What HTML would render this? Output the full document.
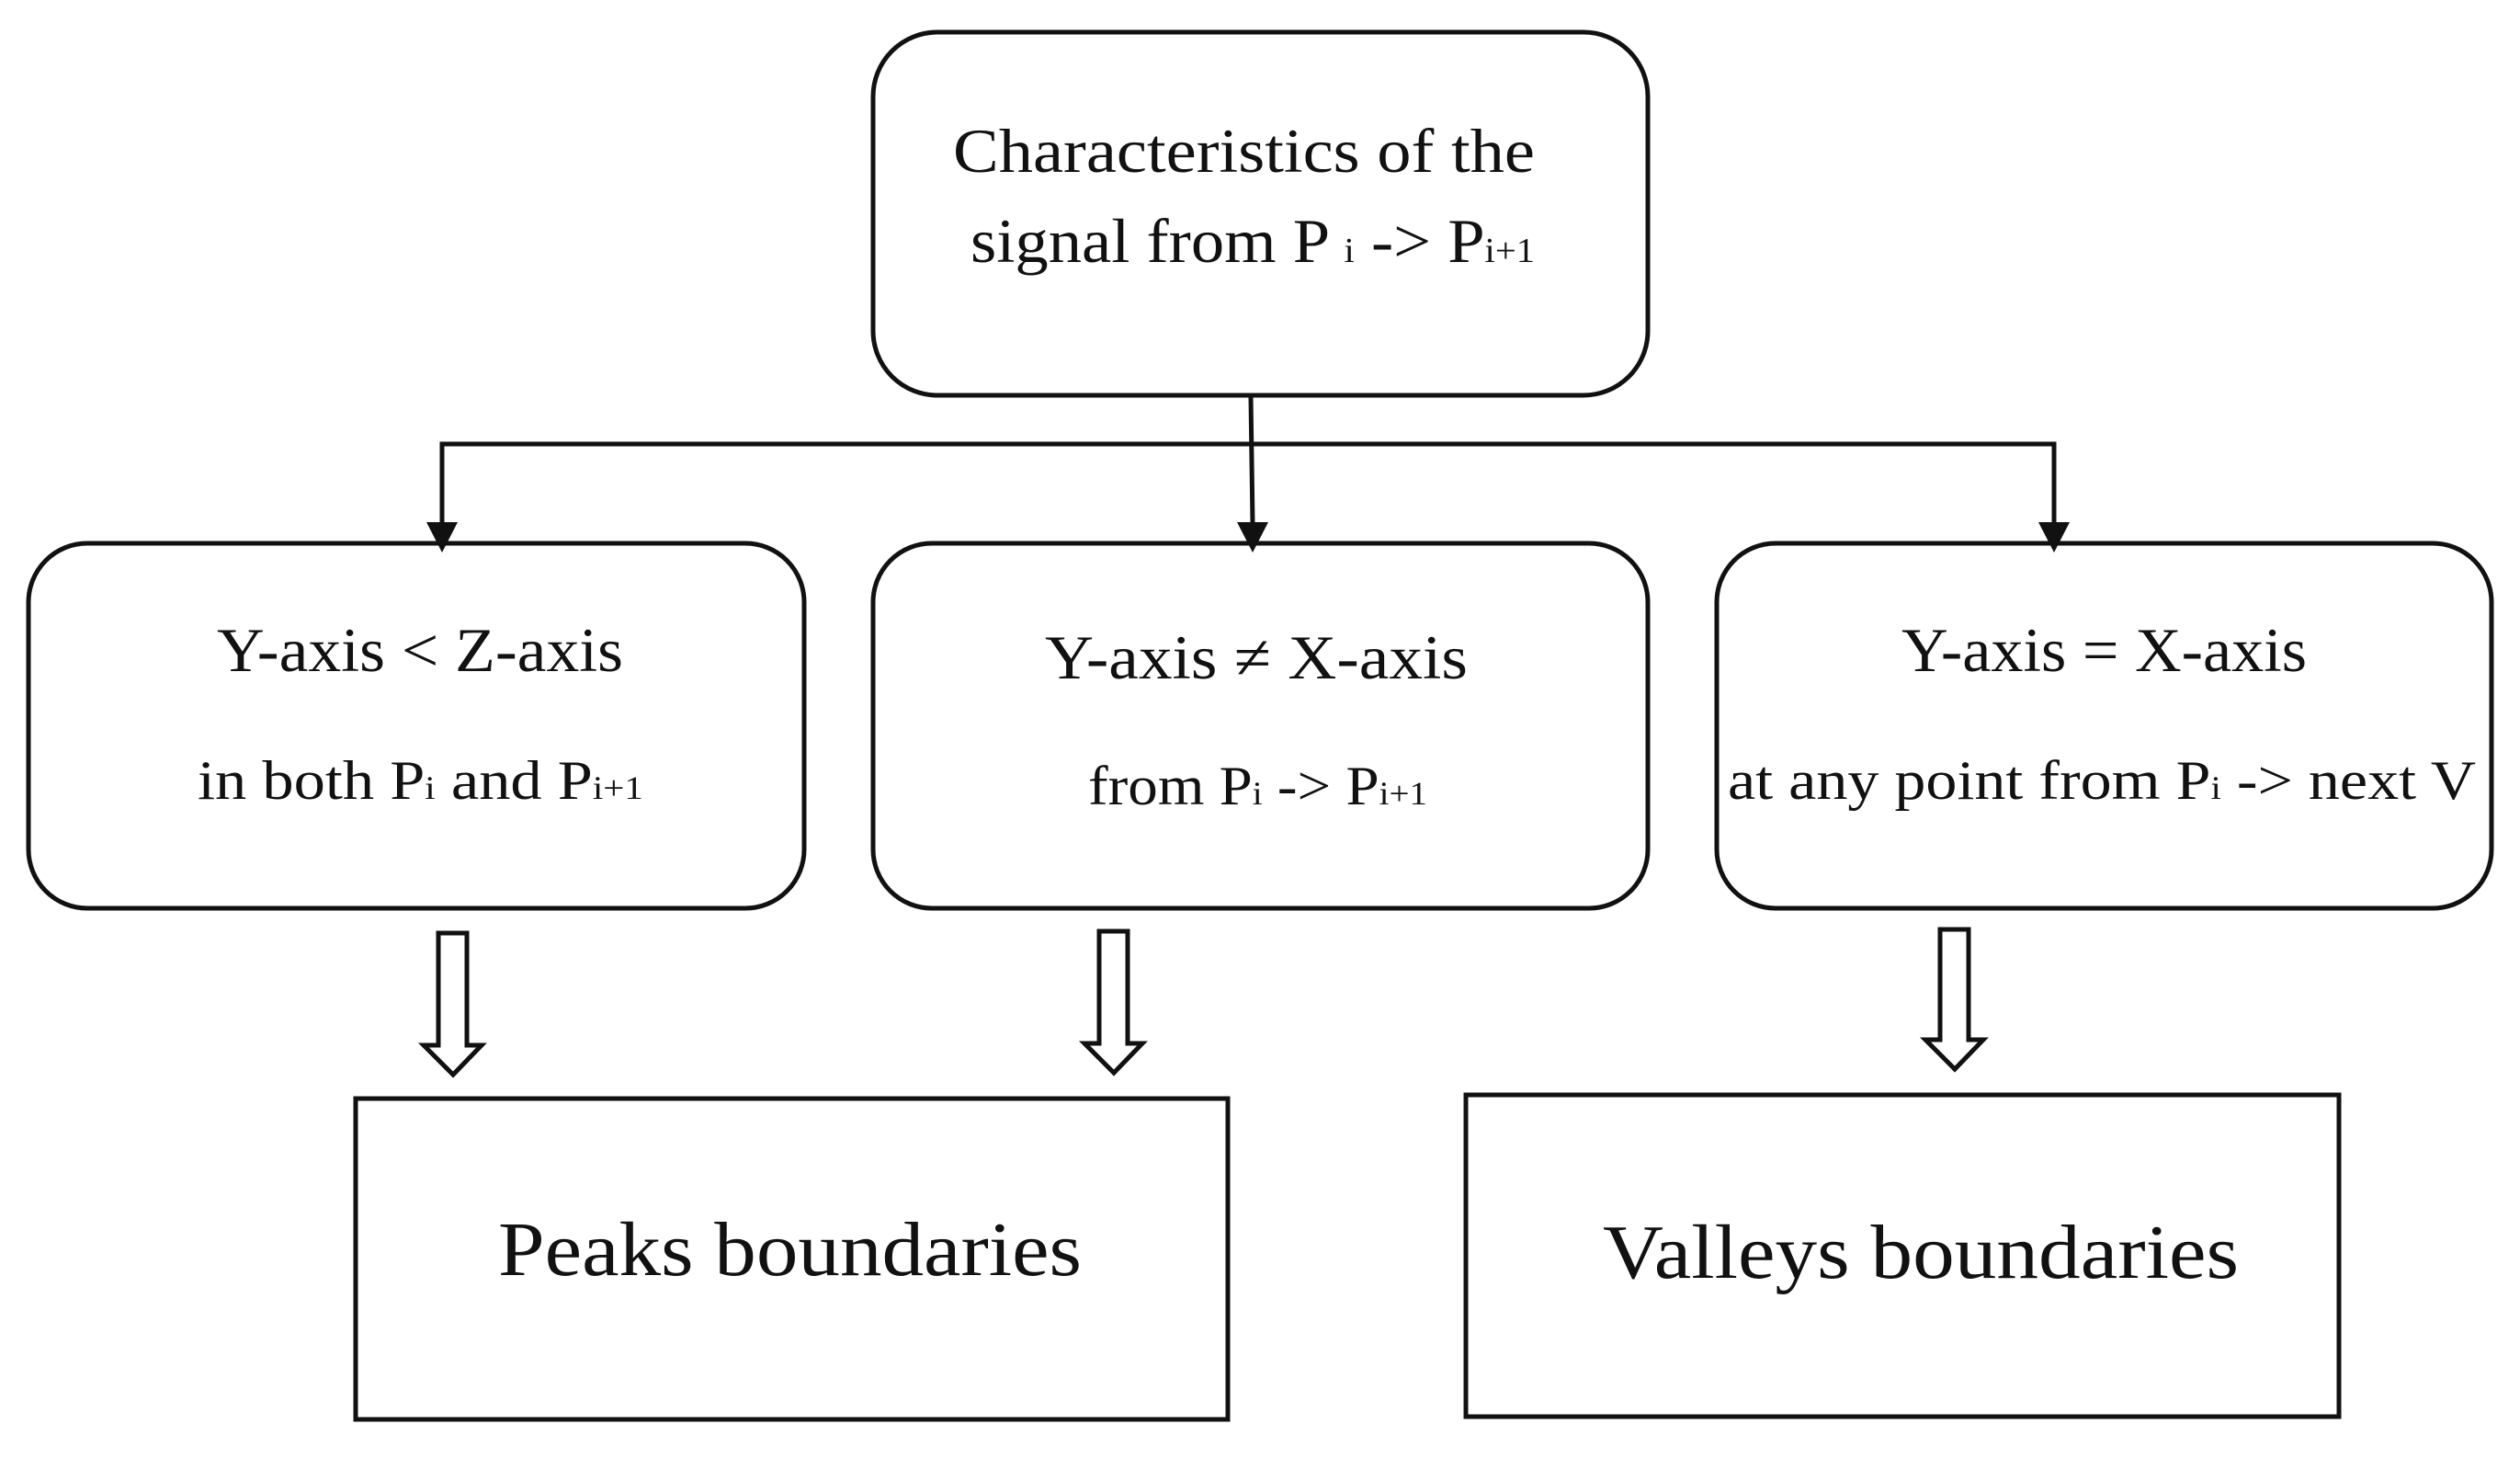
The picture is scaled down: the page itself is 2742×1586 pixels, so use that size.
<!DOCTYPE html>
<html><head><meta charset="utf-8"><style>
html,body{margin:0;padding:0;background:#fff;}
svg{display:block;}
text{font-family:"Liberation Serif",serif;fill:#111;}
</style></head><body>
<svg width="2742" height="1586" viewBox="0 0 2742 1586" xmlns="http://www.w3.org/2000/svg">
<g fill="none" stroke="#111" stroke-width="5">
  <rect x="950" y="35" width="843" height="395" rx="70" ry="70"/>
  <rect x="31" y="591" width="844" height="397" rx="64" ry="64"/>
  <rect x="950" y="591" width="843" height="397" rx="64" ry="64"/>
  <rect x="1868" y="591" width="843" height="397" rx="64" ry="64"/>
  <rect x="387" y="1195" width="949" height="349"/>
  <rect x="1595" y="1191" width="950" height="350"/>
  <polyline points="1361,432 1363,570"/>
  <polyline points="481,570 481,483 2235,483 2235,570"/>
  <path d="M477,1015 H508 V1137 H524 L493,1169 L461,1137 H477 Z"/>
  <path d="M1196,1013 H1227 V1135 H1243 L1212,1167 L1180,1135 H1196 Z"/>
  <path d="M2111,1011 H2142 V1131 H2158 L2127,1163 L2095,1131 H2111 Z"/>
</g>
<g fill="#111">
  <polygon points="464,568 498,568 481,601"/>
  <polygon points="1346,568 1380,568 1363,601"/>
  <polygon points="2218,568 2252,568 2235,601"/>
</g>
<text x="1037" y="187" font-size="68" textLength="633" lengthAdjust="spacingAndGlyphs">Characteristics of the</text>
<text x="1056" y="285" font-size="68" textLength="614" lengthAdjust="spacingAndGlyphs">signal from P <tspan font-size="38">i</tspan> -&gt; P<tspan font-size="38">i+1</tspan></text>

<text x="236" y="730" font-size="68" textLength="442" lengthAdjust="spacingAndGlyphs">Y-axis &lt; Z-axis</text>
<text x="215" y="869" font-size="60" textLength="485" lengthAdjust="spacingAndGlyphs">in both P<tspan font-size="36">i</tspan> and P<tspan font-size="36">i+1</tspan></text>

<text x="1137" y="738" font-size="68" textLength="460" lengthAdjust="spacingAndGlyphs">Y-axis ≠  X-axis</text>
<text x="1184" y="875" font-size="60" textLength="369" lengthAdjust="spacingAndGlyphs">from P<tspan font-size="36">i</tspan> -&gt; P<tspan font-size="36">i+1</tspan></text>

<text x="2069" y="730" font-size="68" textLength="441" lengthAdjust="spacingAndGlyphs">Y-axis = X-axis</text>
<text x="1880" y="869" font-size="60" textLength="814" lengthAdjust="spacingAndGlyphs">at any point from P<tspan font-size="36">i</tspan> -&gt; next V</text>

<text x="542" y="1387" font-size="84" textLength="635" lengthAdjust="spacingAndGlyphs">Peaks boundaries</text>
<text x="1744" y="1390" font-size="84" textLength="692" lengthAdjust="spacingAndGlyphs">Valleys  boundaries</text>
</svg>
</body></html>
